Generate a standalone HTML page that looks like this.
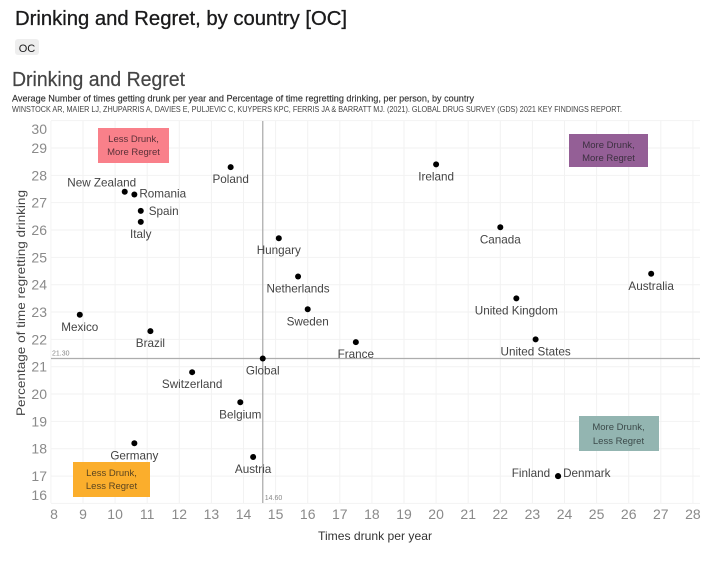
<!DOCTYPE html>
<html lang="en">
<head>
<meta charset="utf-8">
<title>Drinking and Regret</title>
<style>
html,body{margin:0;padding:0;background:#fff;width:713px;height:561px;overflow:hidden}
svg{display:block;font-family:"Liberation Sans",sans-serif}
</style>
</head>
<body>
<svg id="chart" width="713" height="561" viewBox="0 0 713 561" xmlns="http://www.w3.org/2000/svg">
  <text x="15" y="25" font-size="20" fill="#1a1a1b" stroke="#1a1a1b" stroke-width="0.3" textLength="332" lengthAdjust="spacingAndGlyphs">Drinking and Regret, by country [OC]</text>
  <rect x="15" y="39" width="24" height="16" rx="3" fill="#eeeeee"/>
  <text x="27" y="52" font-size="11" fill="#1a1a1b" text-anchor="middle">OC</text>
  <text x="12" y="86" font-size="20" fill="#444" stroke="#444" stroke-width="0.2" textLength="173" lengthAdjust="spacingAndGlyphs">Drinking and Regret</text>
  <text x="12" y="101.5" font-size="9.5" fill="#333" stroke="#333" stroke-width="0.15" textLength="462" lengthAdjust="spacingAndGlyphs">Average Number of times getting drunk per year and Percentage of time regretting drinking, per person, by country</text>
  <text x="12" y="112" font-size="8" fill="#444" textLength="610" lengthAdjust="spacingAndGlyphs">WINSTOCK AR, MAIER LJ, ZHUPARRIS A, DAVIES E, PULJEVIC C, KUYPERS KPC, FERRIS JA &amp; BARRATT MJ. (2021). GLOBAL DRUG SURVEY (GDS) 2021 KEY FINDINGS REPORT.</text>

  <g id="grid"></g>

  <g>
    <rect x="98" y="128" width="71" height="35" fill="#f9808a"/>
    <text x="133.5" y="142" font-size="9.5" fill="#5a3038" text-anchor="middle">Less Drunk,</text>
    <text x="133.5" y="155" font-size="9.5" fill="#5a3038" text-anchor="middle">More Regret</text>
  </g>
  <g>
    <rect x="569" y="134" width="79" height="33" fill="#945f96"/>
    <text x="608.5" y="148" font-size="9.5" fill="#3c3040" text-anchor="middle">More Drunk,</text>
    <text x="608.5" y="161" font-size="9.5" fill="#3c3040" text-anchor="middle">More Regret</text>
  </g>
  <g>
    <rect x="579" y="416" width="80" height="35" fill="#93b5b1"/>
    <text x="618.5" y="430" font-size="9.5" fill="#3c4a4a" text-anchor="middle">More Drunk,</text>
    <text x="618.5" y="444" font-size="9.5" fill="#3c4a4a" text-anchor="middle">Less Regret</text>
  </g>
  <g>
    <rect x="73" y="462" width="77" height="35" fill="#fbae2c"/>
    <text x="111.5" y="476" font-size="9.5" fill="#5a4420" text-anchor="middle">Less Drunk,</text>
    <text x="111.5" y="489" font-size="9.5" fill="#5a4420" text-anchor="middle">Less Regret</text>
  </g>

  <g id="refs"></g>
  <g id="axes"></g>
  <g id="marks"></g>

  <text x="375" y="540" font-size="12" fill="#333" text-anchor="middle" textLength="114" lengthAdjust="spacingAndGlyphs">Times drunk per year</text>
  <text transform="translate(25,303) rotate(-90)" font-size="12" fill="#444" text-anchor="middle" textLength="226" lengthAdjust="spacingAndGlyphs">Percentage of time regretting drinking</text>
</svg>
<script>
var countries = ["New Zealand","Romania","Spain","Italy","Poland","Ireland","Canada","Australia","Hungary","Netherlands","Sweden","United Kingdom","United States","France","Mexico","Brazil","Global","Switzerland","Belgium","Germany","Austria","Finland","Denmark"];
var timesDrunk = [10.3,10.6,10.8,10.8,13.6,20,22,26.7,15.1,15.7,16,22.5,23.1,17.5,8.9,11.1,14.6,12.4,13.9,10.6,14.3,23.8,23.8];
var regretPct = [27.4,27.3,26.7,26.3,28.3,28.4,26.1,24.4,25.7,24.3,23.1,23.5,22,21.9,22.9,22.3,21.3,20.8,19.7,18.2,17.7,17,17];
var xTicks = [8,9,10,11,12,13,14,15,16,17,18,19,20,21,22,23,24,25,26,27,28];
var yTicks = [16,17,18,19,20,21,22,23,24,25,26,27,28,29,30];
var refX = 14.6;
var refY = 21.3;

var NS = "http://www.w3.org/2000/svg";
function xScale(v){ return 50.9 + (v - 8) * 32.1; }
function yScale(v){ return 148 + (29 - v) * 27.34; }
var plotLeft = 51, plotRight = 700, plotTop = 121, plotBottom = 503;

function make(tag, attrs, parent, txt){
  var el = document.createElementNS(NS, tag);
  for (var k in attrs) el.setAttribute(k, attrs[k]);
  if (txt !== undefined) el.textContent = txt;
  parent.appendChild(el);
  return el;
}
function placement(name){
  if (name === "New Zealand") return {dx:-23, dy:-5, anchor:"middle"};
  if (name === "Romania") return {dx:5, dy:3, anchor:"start"};
  if (name === "Spain") return {dx:8, dy:4, anchor:"start"};
  if (name === "Finland") return {dx:-8, dy:1, anchor:"end"};
  if (name === "Denmark") return {dx:5, dy:1, anchor:"start"};
  return {dx:0, dy:16, anchor:"middle"};
}

var grid = document.getElementById("grid");
var axes = document.getElementById("axes");
xTicks.forEach(function(t){
  var g = make("line", {x1:xScale(t), x2:xScale(t), y1:plotTop, y2:plotBottom, stroke:"#f2f2f2", "stroke-width":1}, grid);
  
  
  var tx = Math.max(xScale(t), 54);
  var l = make("text", {x:tx, y:519, "font-size":14, fill:"#8a8a8a", "text-anchor":"middle"}, axes, t);
  
  
});
yTicks.forEach(function(t){
  var g = make("line", {x1:plotLeft, x2:plotRight, y1:yScale(t), y2:yScale(t), stroke:"#f2f2f2", "stroke-width":1}, grid);
  
  
  var py = Math.max(Math.min(yScale(t), 495), 129);
  var l = make("text", {x:47, y:py + 5, "font-size":14, fill:"#8a8a8a", "text-anchor":"end"}, axes, t);
  
  
});

var refs = document.getElementById("refs");
var rv = make("line", {x1:xScale(refX), x2:xScale(refX), y1:plotTop, y2:plotBottom, stroke:"#adadad", "stroke-width":1.3}, refs);


var rh = make("line", {x1:plotLeft, x2:plotRight, y1:yScale(refY), y2:yScale(refY), stroke:"#adadad", "stroke-width":1.3}, refs);


var rxl = make("text", {x:xScale(refX) + 2, y:500, "font-size":7, fill:"#888"}, refs, refX.toFixed(2));


var ryl = make("text", {x:plotLeft + 1, y:yScale(refY) - 3, "font-size":7, fill:"#888"}, refs, refY.toFixed(2));



var marks = document.getElementById("marks");
countries.forEach(function(name, i){
  var cx = xScale(timesDrunk[i]), cy = yScale(regretPct[i]);
  var c = make("circle", {cx:cx, cy:cy, r:3, fill:"#000"}, marks);
  
  
  var p = placement(name);
  var t = make("text", {x:cx + p.dx, y:cy + p.dy, "font-size":11.7, fill:"#444", "text-anchor":p.anchor}, marks, name);
  
  
});
</script>
</body>
</html>
